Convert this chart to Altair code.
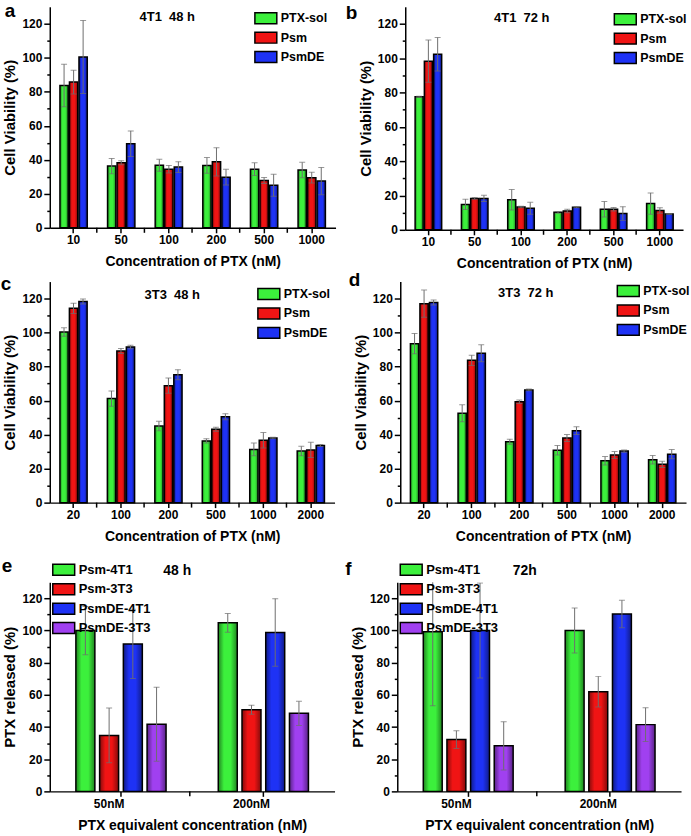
import altair as alt
import pandas as pd

FONT = "Liberation Sans, Arial, sans-serif"

# ---------------- data ----------------
conc_4t1 = ["10", "50", "100", "200", "500", "1000"]
conc_3t3 = ["20", "100", "200", "500", "1000", "2000"]
cv_series = ["PTX-sol", "Psm", "PsmDE"]
cv_colors = ["#3cf03c", "#f01414", "#1e32f5"]
rel_conc = ["50nM", "200nM"]
rel_series = ["Psm-4T1", "Psm-3T3", "PsmDE-4T1", "PsmDE-3T3"]
rel_colors = ["#3cf03c", "#f01414", "#1e32f5", "#a040f0"]

# panel a: 4T1 48 h  (rows: PTX-sol, Psm, PsmDE)
a_mean = [[83.7, 36.3, 36.8, 36.7, 34.5, 34.0],
          [85.7, 38.3, 34.5, 38.8, 27.8, 29.5],
          [100.5, 49.5, 35.7, 29.8, 25.0, 27.5]]
a_err = [[12.5, 4.5, 3.5, 4.6, 3.7, 4.5],
         [7.0, 1.2, 2.2, 8.3, 1.8, 3.2],
         [21.5, 7.5, 3.2, 4.6, 6.5, 8.0]]
# panel b: 4T1 72 h
b_mean = [[77.5, 14.8, 17.5, 10.2, 12.0, 15.3],
          [98.3, 18.3, 13.3, 11.0, 12.0, 11.3],
          [102.3, 18.3, 12.5, 13.2, 9.5, 9.2]]
b_err = [[0.3, 3.0, 6.0, 0.5, 4.5, 6.2],
         [12.3, 0.5, 0.5, 1.0, 1.0, 1.6],
         [9.8, 1.8, 3.5, 0.3, 4.0, 0.3]]
# panel c: 3T3 48 h
c_mean = [[100.3, 61.2, 45.0, 36.3, 31.3, 30.3],
          [114.3, 89.2, 68.8, 43.2, 36.7, 31.0],
          [118.3, 91.5, 75.2, 50.5, 38.0, 33.6]]
c_err = [[2.5, 4.5, 2.8, 1.3, 3.7, 2.8],
         [3.0, 1.5, 4.5, 1.2, 4.5, 4.5],
         [1.5, 1.0, 3.0, 1.8, 0.4, 0.6]]
# panel d: 3T3 72 h
d_mean = [[93.5, 52.5, 35.8, 30.8, 24.6, 25.2],
          [117.0, 83.7, 59.3, 38.0, 28.0, 22.5],
          [117.7, 87.8, 66.3, 42.3, 30.3, 28.5]]
d_err = [[6.0, 5.0, 1.5, 2.8, 2.5, 2.5],
         [8.0, 3.0, 1.0, 2.0, 2.0, 1.8],
         [1.5, 5.0, 0.5, 2.3, 0.7, 2.7]]
# panel e: 48 h release (rows: Psm-4T1, Psm-3T3, PsmDE-4T1, PsmDE-3T3)
e_mean = [[100.0, 104.8], [34.8, 50.8], [91.7, 98.8], [41.8, 48.5]]
e_err = [[15.0, 5.8], [17.0, 2.8], [21.5, 21.0], [23.0, 7.5]]
# panel f: 72 h release
f_mean = [[99.2, 100.0], [32.2, 62.0], [100.0, 110.3], [28.3, 41.5]]
f_err = [[46.0, 14.0], [5.5, 9.5], [29.5, 8.5], [15.0, 10.5]]

RECT = "M-2,-1H2V1H-2Z"
ERRC = "#6e6e6e"
NB = "\u00a0"
SHADE = {"gradient": "linear", "x1": 0, "y1": 0, "x2": 1, "y2": 0,
         "stops": [{"offset": 0, "color": "rgba(0,0,0,0.45)"},
                   {"offset": 0.3, "color": "rgba(0,0,0,0)"},
                   {"offset": 0.65, "color": "rgba(0,0,0,0)"},
                   {"offset": 1, "color": "rgba(0,0,0,0.45)"}]}


def txt(s, x, y, size, opacity=1):
    return alt.Chart(pd.DataFrame({"t": [s]})).mark_text(
        font=FONT, fontSize=size, fontWeight="bold", align="center",
        baseline="alphabetic", color="black", opacity=opacity
    ).encode(x=alt.value(x), y=alt.value(y), text="t:N")


def panel(cats, series, colors, means, errs, w, h, xtitle, ytitle,
          title, tpos, tsize, letter, lpos, legpos, legsize, pad, spacer=None):
    rows = []
    for si, s in enumerate(series):
        for ci, c in enumerate(cats):
            m = means[si][ci]
            e = errs[si][ci]
            rows.append({"key": c + "|" + s, "series": s,
                         "mean": m, "lo": m - e, "hi": m + e})
    df = pd.DataFrame(rows)
    # each concentration group: a blank slot, one slot per series, a blank slot
    keys = []
    for c in cats:
        keys += [c + "|_g0"] + [c + "|" + s for s in series] + [c + "|_g1"]
    label_keys = [c + "|" + series[1] for c in cats]
    edge = (1 - pad / 2) / (1 - pad)
    band_pos = 0.5 if len(series) % 2 == 1 else edge
    xscale = alt.Scale(type="band", domain=keys, paddingInner=pad, paddingOuter=pad / 2)
    xaxis = alt.Axis(labelAngle=0, values=label_keys, bandPosition=band_pos,
                     labelExpr="split(datum.value, '|')[0]")
    x = alt.X("key:N", title=xtitle, scale=xscale, axis=xaxis)
    yscale = alt.Scale(domain=[0, 130], nice=False)
    yaxis = alt.Axis(values=list(range(0, 130, 10)),
                     labelExpr="datum.value % 20 == 0 ? datum.label : ''",
                     tickSize={"condition": {"test": "datum.value % 20 == 0", "value": 6}, "value": 3})
    base = alt.Chart(df)
    bars = base.mark_bar(stroke="black", strokeWidth=1.5).encode(
        x=x,
        y=alt.Y("mean:Q", title=ytitle, scale=yscale, axis=yaxis),
        color=alt.Color("series:N", sort=series,
                        scale=alt.Scale(domain=series, range=colors),
                        legend=alt.Legend(title=None, orient="none",
                                          legendX=legpos[0] + 5.5, legendY=legpos[1],
                                          symbolType=RECT, symbolSize=121,
                                          symbolStrokeColor="black", symbolStrokeWidth=1.5,
                                          labelFont=FONT, labelFontSize=legsize,
                                          labelFontWeight="bold", labelColor="black",
                                          rowPadding=2.5, padding=0, labelOffset=8.5,
                                          symbolOpacity=1)))
    shade = base.mark_bar(fill=SHADE, strokeWidth=0).encode(
        x=x, y=alt.Y("mean:Q", title=ytitle, scale=yscale, axis=yaxis))
    rule = base.mark_rule(color=ERRC, strokeWidth=1, clip=True).encode(
        x=x, y=alt.Y("lo:Q", title=ytitle, scale=yscale, axis=yaxis), y2="hi:Q")
    cap_hi = base.mark_tick(color=ERRC, size=6, thickness=1, clip=True).encode(
        x=x, y=alt.Y("hi:Q", title=ytitle, scale=yscale, axis=yaxis))
    cap_lo = base.mark_tick(color=ERRC, size=6, thickness=1, clip=True).encode(
        x=x, y=alt.Y("lo:Q", title=ytitle, scale=yscale, axis=yaxis))
    # minor x ticks at the boundaries between concentration groups
    bdf = pd.DataFrame({"key": [c + "|_g1" for c in cats[:-1]]})
    bticks = alt.Chart(bdf).mark_rule(color="black", strokeWidth=1.5).encode(
        x=alt.X("key:N", title=xtitle, scale=xscale, axis=xaxis, bandPosition=1),
        y=alt.value(h), y2=alt.value(h + 5))
    layers = [bars, shade, rule, cap_lo, cap_hi, bticks,
              txt(title, tpos[0], tpos[1], tsize),
              txt(letter, lpos[0], lpos[1], 19)]
    if spacer is not None:
        layers.append(txt(".", lpos[0], spacer, 19, opacity=0))
    return alt.layer(*layers).properties(width=w, height=h)


XT = "Concentration of PTX (nM)"
YT = "Cell Viability (%)"
XT2 = "PTX equivalent concentration (nM)"
YT2 = "PTX released (%)"

pa = panel(conc_4t1, cv_series, cv_colors, a_mean, a_err, 287, 222, XT, YT,
           "4T1" + NB + NB + "48 h", (118, 14), 13, "a", (-40, 10), (205, 5), 12.5, 0.13)
pb = panel(conc_4t1, cv_series, cv_colors, b_mean, b_err, 279, 224, XT, YT,
           "4T1" + NB + NB + "72 h", (117, 15), 13, "b", (-54, 12), (209, 6), 12.5, 0.13)
pc = panel(conc_3t3, cv_series, cv_colors, c_mean, c_err, 286, 222, XT, YT,
           "3T3" + NB + NB + "48 h", (123, 17), 13, "c", (-44, 8), (208, 6), 12.5, 0.13)
pd_ = panel(conc_3t3, cv_series, cv_colors, d_mean, d_err, 287, 222, XT, YT,
            "3T3" + NB + NB + "72 h", (126, 15), 13, "d", (-46, 4), (217, 3), 12.5, 0.13)
pe = panel(rel_conc, rel_series, rel_colors, e_mean, e_err, 286, 210, XT2, YT2,
           "48 h", (128, -7), 14, "e", (-43, -10), (2, -19), 13, 0.2, spacer=-24)
pf = panel(rel_conc, rel_series, rel_colors, f_mean, f_err, 285, 210, XT2, YT2,
           "72h", (128, -7), 14, "f", (-49, -7), (2, -19), 13, 0.2)

row1 = alt.hconcat(pa, pb, spacing=10).resolve_scale(color="independent").resolve_legend(color="independent")
row2 = alt.hconcat(pc, pd_, spacing=14).resolve_scale(color="independent").resolve_legend(color="independent")
row3 = alt.hconcat(pe, pf, spacing=10).resolve_scale(color="independent").resolve_legend(color="independent")

chart = alt.vconcat(row1, row2, row3, spacing=0).resolve_scale(
    color="independent").resolve_legend(color="independent").properties(
    padding={"left": 0, "top": 0, "right": 0, "bottom": 0}
).configure_view(stroke=None).configure_axis(
    domainColor="black", domainWidth=1.5, tickColor="black", tickWidth=1.5,
    labelFont=FONT, labelFontSize=12, labelFontWeight="bold", labelColor="black",
    titleFont=FONT, titleFontSize=15, titleFontWeight="bold", titleColor="black",
    grid=False
).configure_axisX(tickSize=5, labelPadding=2, titlePadding=9, titleFontSize=14
).configure_axisY(labelPadding=2, titlePadding=4)

chart.save("out.html", embed_options={"renderer": "svg", "actions": False})
